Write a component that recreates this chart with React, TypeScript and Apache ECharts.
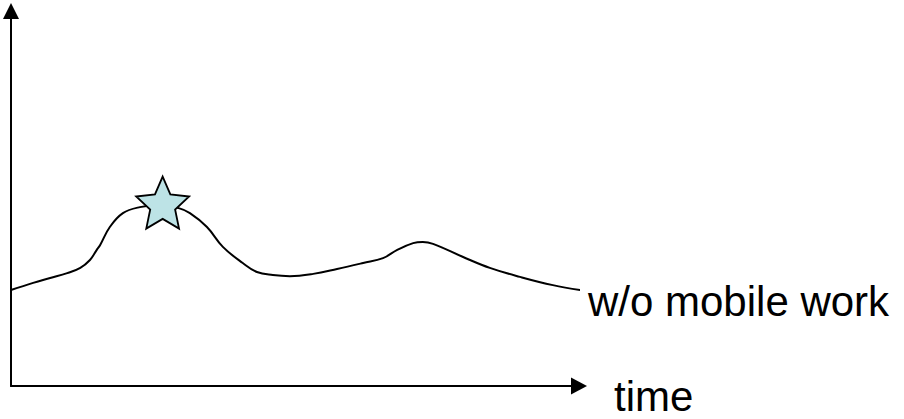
import React, { useEffect, useRef } from "react";
import * as echarts from "echarts";

// Curve: time (0..100 across the x axis) vs level (0..100 up the y axis)
const timeValues = [
  0, 3.9, 6.9, 9.9, 12.2, 13.9, 15.1, 15.7, 17.4, 19.7, 22.7, 26.2, 29.4, 31.5,
  34.5, 37.3, 40.8, 43.3, 46.1, 49.1, 53.2, 57.4, 62.0, 65.5, 68.0, 70.8, 72.5,
  74.3, 79.6, 84.3, 89.6, 95.4, 101.4,
];
const levelValues = [
  25.6, 27.5, 28.8, 30.1, 31.5, 33.6, 36.3, 37.6, 42.4, 46.1, 47.7, 48.3, 47.5,
  46.1, 42.4, 37.1, 32.8, 30.4, 29.6, 29.3, 29.9, 31.2, 32.8, 34.1, 36.3, 38.1,
  38.4, 37.9, 34.4, 31.5, 29.1, 26.9, 25.3,
];
const starPoint = [26.7, 48.9];
const seriesName = "w/o mobile work";
const xAxisName = "time";

const FONT = "'Liberation Sans', Arial, Helvetica, sans-serif";

function starPath(inner: number): string {
  const pts: string[] = [];
  for (let i = 0; i < 10; i++) {
    const r = i % 2 === 0 ? 1 : inner;
    const a = -Math.PI / 2 + (i * Math.PI) / 5;
    pts.push(`${(r * Math.cos(a)).toFixed(4)},${(r * Math.sin(a)).toFixed(4)}`);
  }
  return "path://M" + pts.join("L") + "Z";
}

export default function App() {
  const ref = useRef<HTMLDivElement>(null);
  useEffect(() => {
    if (!ref.current) return;
    const chart = echarts.init(ref.current, undefined, { renderer: "svg" });
    const lineData = timeValues.map((t, i) => [t, levelValues[i]]);
    chart.setOption({
      animation: false,
      backgroundColor: "#ffffff",
      grid: { left: 11, right: 325, top: 11, bottom: 33, containLabel: false },
      xAxis: {
        type: "value",
        min: 0,
        max: 100,
        name: xAxisName,
        nameLocation: "end",
        nameGap: 35,
        nameTextStyle: {
          color: "#000",
          fontSize: 42,
          fontFamily: FONT,
          verticalAlign: "top",
          lineHeight: 20,
        },
        axisLine: {
          show: true,
          symbol: ["none", "triangle"],
          symbolSize: [17, 16],
          lineStyle: { color: "#000", width: 2 },
        },
        axisTick: { show: false },
        axisLabel: { show: false },
        splitLine: { show: false },
      },
      yAxis: {
        type: "value",
        min: 0,
        max: 100,
        axisLine: {
          show: true,
          symbol: ["none", "triangle"],
          symbolSize: [16, 16],
          lineStyle: { color: "#000", width: 2 },
        },
        axisTick: { show: false },
        axisLabel: { show: false },
        splitLine: { show: false },
      },
      series: [
        {
          type: "line",
          name: seriesName,
          data: lineData,
          smooth: 0.4,
          showSymbol: false,
          clip: false,
          lineStyle: { color: "#000", width: 2 },
          endLabel: {
            show: true,
            formatter: seriesName,
            distance: 8,
            offset: [0, 12],
            color: "#000",
            fontSize: 42,
            fontFamily: FONT,
          },
        },
        {
          type: "scatter",
          data: [starPoint],
          clip: false,
          symbol: starPath(0.47),
          symbolSize: [53, 52],
          itemStyle: {
            color: "#bde3e6",
            borderColor: "#000",
            borderWidth: 1.8,
            opacity: 1,
          },
          z: 5,
        },
      ],
    });
    return () => chart.dispose();
  }, []);
  return (
    <div
      ref={ref}
      style={{ position: "absolute", left: 0, top: 0, width: 904, height: 419 }}
    />
  );
}
